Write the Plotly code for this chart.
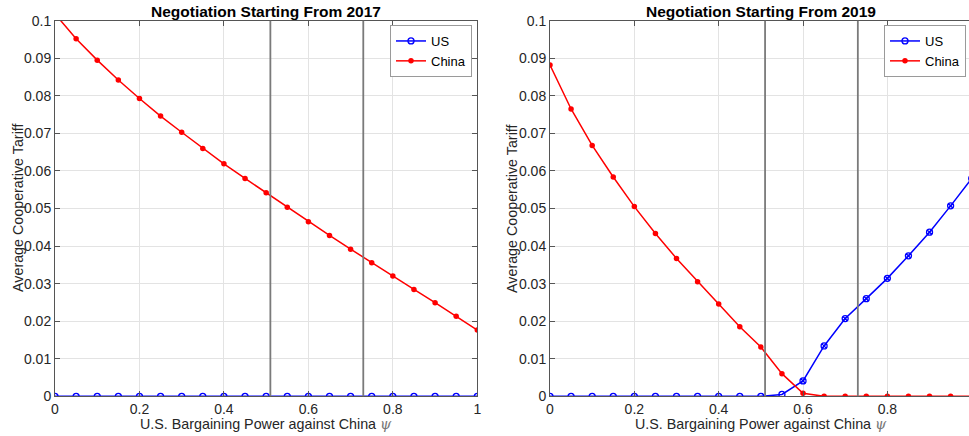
import plotly.graph_objects as go

# Bargaining power grid
psi = [round(0.05 * i, 2) for i in range(21)]

# Negotiation starting from 2017
us_2017 = [0.0] * 21
china_2017 = [0.1018, 0.0952, 0.0895, 0.0842, 0.0793, 0.0746, 0.0703, 0.0660,
              0.0619, 0.0580, 0.0542, 0.0503, 0.04645, 0.04282, 0.03918, 0.03555,
              0.0320, 0.02846, 0.02491, 0.02128, 0.01764]

# Negotiation starting from 2019
us_2019 = [0.0, 0.0, 0.0, 0.0, 0.0, 0.0, 0.0, 0.0, 0.0, 0.0, 0.0,
           0.0005, 0.0041, 0.0134, 0.0207, 0.0260, 0.0314, 0.0374, 0.0437, 0.0507, 0.0580]
china_2019 = [0.0882, 0.0765, 0.0668, 0.0584, 0.0505, 0.04335, 0.0367, 0.0305,
              0.02456, 0.01853, 0.01312, 0.00603, 0.0008, 0.0, 0.0, 0.0, 0.0,
              0.0, 0.0, 0.0, 0.0]

# Reference values of psi marked by vertical lines
psi_marks = [0.51, 0.73]

x_ticks = [0, 0.2, 0.4, 0.6, 0.8, 1]
x_tick_text = ["0", "0.2", "0.4", "0.6", "0.8", "1"]
y_ticks = [0, 0.01, 0.02, 0.03, 0.04, 0.05, 0.06, 0.07, 0.08, 0.09, 0.1]
y_tick_text = ["0", "0.01", "0.02", "0.03", "0.04", "0.05", "0.06", "0.07", "0.08", "0.09", "0.1"]

titles = ["Negotiation Starting From 2017", "Negotiation Starting From 2019"]
x_title = "U.S. Bargaining Power against China <span style='font-family:DejaVu Serif;color:#777'><i>ψ</i></span>"
y_title = "Average Cooperative Tariff"

FONT = "Liberation Sans, Arial, Helvetica, sans-serif"
BLUE = "#0000ff"
RED = "#ff0000"

W, H = 969, 436
left_dom = [55 / W, 477.3 / W]
right_dom = [550 / W, 1.0]
y_dom = [(H - 396.3) / H, (H - 20.7) / H]
right_xmax = (W - 550) / 421.7

fig = go.Figure()

# symbols for US markers in the 2019 panel
us19_symbols = ["circle-open" if v < 0.002 else "circle-x-open" for v in us_2019]

panels = [
    ("x", "y", "legend", us_2017, china_2017, "circle-open"),
    ("x2", "y2", "legend2", us_2019, china_2019, us19_symbols),
]
for xa, ya, lg, us, cn, us_sym in panels:
    fig.add_trace(go.Scatter(
        x=psi, y=us, name="US", mode="lines+markers", xaxis=xa, yaxis=ya, legend=lg,
        line=dict(color=BLUE, width=1.5),
        marker=dict(symbol=us_sym, size=6, color=BLUE, line=dict(width=1.3, color=BLUE)),
        cliponaxis=True,
    ))
    fig.add_trace(go.Scatter(
        x=psi, y=cn, name="China", mode="lines+markers", xaxis=xa, yaxis=ya, legend=lg,
        line=dict(color=RED, width=1.5),
        marker=dict(symbol="circle", size=5.5, color=RED),
        cliponaxis=True,
    ))

axis_common = dict(
    showgrid=True, gridcolor="#e3e3e3", gridwidth=1,
    showline=True, linecolor="#555555", linewidth=1,
    ticks="inside", ticklen=5, tickcolor="#555555", tickwidth=1,
    tickfont=dict(family=FONT, size=14, color="#262626"),
    zeroline=False, fixedrange=True, automargin=False,
)

legend_common = dict(
    xanchor="right", y=(H - 25) / H, yanchor="top",
    bgcolor="white", bordercolor="#9a9a9a", borderwidth=1,
    font=dict(family=FONT, size=13, color="black"),
    itemwidth=30, tracegroupgap=0,
)

fig.update_layout(
    width=W, height=H,
    margin=dict(l=0, r=0, t=0, b=0, autoexpand=False),
    paper_bgcolor="white", plot_bgcolor="white",
    showlegend=True,
    xaxis=dict(domain=left_dom, range=[0, 1], anchor="y", mirror="ticks",
               tickvals=x_ticks, ticktext=x_tick_text, **axis_common),
    yaxis=dict(domain=y_dom, range=[0, 0.1], anchor="x", mirror="ticks",
               tickvals=y_ticks, ticktext=y_tick_text, **axis_common),
    xaxis2=dict(domain=right_dom, range=[0, right_xmax], anchor="y2", mirror="ticks",
                tickvals=x_ticks, ticktext=x_tick_text, **axis_common),
    yaxis2=dict(domain=y_dom, range=[0, 0.1], anchor="x2", mirror=False,
                tickvals=y_ticks, ticktext=y_tick_text, **axis_common),
    legend=dict(x=472 / W, **legend_common),
    legend2=dict(x=966 / W, **legend_common),
)

# vertical reference lines
for xr in ["x", "x2"]:
    for m in psi_marks:
        fig.add_shape(type="line", xref=xr, yref="y domain" if xr == "x" else "y2 domain",
                      x0=m, x1=m, y0=0, y1=1,
                      line=dict(color="#7a7a7a", width=1.8), layer="above")

# titles and axis labels
centers = [(55 + 477.3) / 2 / W, (550 + 971.7) / 2 / W]
ylab_x = [18 / W, 512 / W]
for i in range(2):
    fig.add_annotation(text="<b>" + titles[i] + "</b>", x=centers[i], y=(H - 11) / H,
                       xref="paper", yref="paper", showarrow=False,
                       font=dict(family=FONT, size=15.5, color="black"),
                       xanchor="center", yanchor="middle")
    fig.add_annotation(text=x_title, x=centers[i], y=(H - 424) / H,
                       xref="paper", yref="paper", showarrow=False,
                       font=dict(family=FONT, size=14.3, color="#262626"),
                       xanchor="center", yanchor="middle")
    fig.add_annotation(text=y_title, x=ylab_x[i], y=(H - 208) / H,
                       xref="paper", yref="paper", showarrow=False, textangle=-90,
                       font=dict(family=FONT, size=14.3, color="#262626"),
                       xanchor="center", yanchor="middle")

fig.write_html("out.html")
